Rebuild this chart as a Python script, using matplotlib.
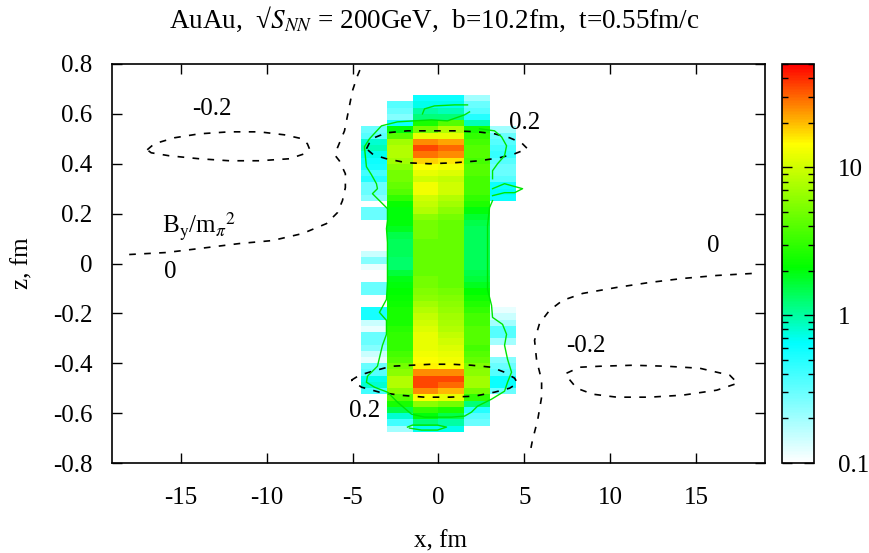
import numpy as np
import matplotlib
matplotlib.use('Agg')
import matplotlib.pyplot as plt
from matplotlib.colors import LogNorm, LinearSegmentedColormap

plt.rcParams['font.family'] = ['Liberation Serif', 'DejaVu Serif']
plt.rcParams['mathtext.fontset'] = 'stix'

# cell grid: x columns (fm) and z rows from top to bottom (fm)
x_edges = [-4.5, -3.0, -1.5, 0.0, 1.5, 3.0, 4.5]
z_top, z_bot, n_rows = 0.675, -0.675, 54

# energy density per column, rows from top (z=0.675) to bottom (z=-0.675); 0 = empty cell
col_m45 = [0, 0, 0, 0, 0, 0.3, 0.35, 0.8, 0.9, 0.7, 0.6, 0.55, 0.4, 0.5, 0.3, 0.3, 0.25, 0,
           0.3, 0.3, 0, 0, 0, 0, 0, 0.15, 0.25, 0.12, 0, 0, 0.3, 0.3, 0, 0, 0.55, 0.55, 0.15,
           0.12, 0.3, 0.3, 0.25, 0.15, 0.12, 0.3, 0.35, 0.7, 0.8, 0.4, 0, 0, 0, 0, 0, 0]
col_m30 = [0, 0.35, 0.3, 0.25, 0.6, 2.0, 4, 7, 8, 8, 7, 6, 5, 5, 4.5, 4, 3, 2.2, 2.0, 2.0,
           2.0, 1.8, 1.5, 1.4, 1.4, 1.4, 1.3, 1.3, 1.6, 1.9, 2.0, 2.1, 2.2, 2.3, 2.5, 2.5, 2.5,
           2.8, 3, 3, 3, 3.5, 4, 5, 6, 8, 8, 6, 4, 2.5, 1.5, 0.8, 0.4, 0.2]
col_m15 = [0.6, 0.7, 1.0, 1.2, 2.5, 5, 12, 25, 35, 28, 18, 14, 12, 10, 13, 13, 10, 9, 8, 6,
           5, 5, 5, 4.5, 4.5, 4.5, 4.5, 4.5, 4.5, 5, 5, 5.5, 6, 7, 8, 9, 10, 11, 12, 12, 12,
           13, 14, 15, 25, 35, 35, 25, 14, 6, 3, 2, 1.2, 0.7]
col_p00 = [0.6, 0.7, 0.9, 1.2, 4, 8, 12, 22, 30, 25, 16, 13, 11, 9, 10, 10, 8, 7, 6, 5,
           4.5, 4.5, 4.5, 4.5, 4.5, 4.5, 4.5, 4.5, 4.5, 4.5, 4.5, 5, 5.5, 6, 6.5, 7, 7.5, 8,
           9, 10, 11, 12, 13, 14, 25, 35, 30, 20, 12, 5, 2.5, 1.5, 1.0, 0.7]
col_p15 = [0.2, 0.3, 0.35, 0.5, 0.9, 2.5, 3, 3.5, 4, 4, 3.5, 4, 4, 3.5, 3.5, 3.5, 3, 2.6,
           2.0, 1.7, 1.5, 1.4, 1.4, 1.4, 1.4, 1.4, 1.4, 1.4, 1.5, 1.6, 1.8, 2.1, 2.4, 2.7, 3,
           3.5, 3.5, 4, 4, 4, 3.5, 4, 4.5, 5.5, 6, 7, 7, 5, 3, 1.2, 0.5, 0.35, 0.3, 0]
col_p30 = [0, 0, 0, 0, 0, 0.2, 0.3, 0.35, 0.4, 0.45, 0.35, 0.3, 0.3, 0.35, 0.6, 0.65, 0.6,
           0, 0, 0, 0, 0, 0, 0, 0, 0, 0, 0, 0, 0, 0, 0, 0, 0, 0.12, 0.15, 0.2, 0.35, 0.35, 0.2,
           0, 0, 0.25, 0.3, 0.35, 0.6, 0.6, 0.3, 0, 0, 0, 0, 0, 0]

# B_y / m_pi^2 contour lines (x fm, z fm)
by_m02_left_x = [-16.95, -16.54, -15.38, -13.92, -12.17, -10.43, -8.97, -7.92, -7.63, -7.51,
                 -7.80, -8.68, -10.43, -12.17, -13.92, -15.67, -16.72, -16.95]
by_m02_left_z = [0.456, 0.48, 0.504, 0.52, 0.528, 0.528, 0.516, 0.50, 0.48, 0.46,
                 0.44, 0.42, 0.412, 0.412, 0.42, 0.432, 0.444, 0.456]
by_0_left_x = [-18.0, -15.84, -13.92, -11.59, -9.67, -7.92, -6.52, -5.88, -5.59, -5.42, -5.42,
               -5.77, -6.0, -5.88, -5.47, -5.24, -5.01, -4.72, -4.43]
by_0_left_z = [0.036, 0.044, 0.06, 0.08, 0.092, 0.12, 0.16, 0.204, 0.252, 0.304, 0.36,
               0.412, 0.432, 0.464, 0.532, 0.612, 0.692, 0.752, 0.80]
by_p02_top_x = [-4.19, -3.90, -3.03, -1.81, -0.52, 0.93, 2.27, 3.26, 4.14, 4.83, 5.18, 4.43,
                3.55, 2.39, 0.93, -0.52, -1.86, -3.03, -3.79, -4.19]
by_p02_top_z = [0.46, 0.50, 0.524, 0.532, 0.532, 0.532, 0.528, 0.52, 0.504, 0.484, 0.46, 0.44,
                0.424, 0.412, 0.404, 0.40, 0.404, 0.42, 0.436, 0.46]
by_p02_bot_x = [-5.07, -4.60, -3.84, -2.74, -1.57, -0.41, 0.76, 1.92, 3.09, 3.84, 4.43, 4.60,
                4.14, 3.26, 2.10, 0.64, -0.82, -2.27, -3.44, -4.48, -5.07]
by_p02_bot_z = [-0.468, -0.448, -0.432, -0.412, -0.408, -0.404, -0.404, -0.408, -0.416, -0.436,
                -0.46, -0.48, -0.50, -0.516, -0.532, -0.536, -0.536, -0.528, -0.516, -0.496, -0.468]
by_0_right_x = [18.23, 16.19, 14.21, 12.29, 10.37, 8.39, 7.22, 6.46, 5.88, 5.59, 5.71, 6.0,
                6.0, 5.77, 5.47, 5.30]
by_0_right_z = [-0.04, -0.048, -0.06, -0.076, -0.096, -0.12, -0.148, -0.188, -0.24, -0.308,
                -0.388, -0.468, -0.536, -0.628, -0.708, -0.768]
by_m02_right_x = [7.45, 8.21, 9.38, 11.30, 13.28, 15.20, 16.95, 17.41, 16.19, 14.21, 12.29,
                  10.37, 8.97, 8.04, 7.51, 7.45]
by_m02_right_z = [-0.44, -0.416, -0.412, -0.408, -0.412, -0.42, -0.448, -0.48, -0.508, -0.528,
                  -0.536, -0.536, -0.524, -0.50, -0.456, -0.44]

# green density contour, read in picture pixels, converted to (x fm, z fm) below
green_main_px = [(470, 111), (465, 114), (448, 120), (432, 119), (415, 120), (398, 121), (382, 125),
                 (370, 138), (365, 146), (367, 166), (372, 174), (377, 183), (378, 188), (373, 193),
                 (380, 200), (388, 208), (388, 220), (387, 228), (388, 242), (388, 262), (388, 282),
                 (387, 299), (380, 312), (387, 320), (387, 334), (383, 345), (378, 366), (368, 376),
                 (367, 382), (375, 387), (388, 392), (398, 402), (412, 414), (425, 417), (438, 417),
                 (452, 417), (465, 416), (472, 412), (478, 406), (492, 399), (505, 391), (508, 382),
                 (512, 372), (508, 359), (505, 345), (507, 334), (503, 324), (493, 317), (492, 305),
                 (488, 289), (488, 262), (488, 225), (490, 207), (493, 200)]
green_spike_px = [(493, 188), (505, 183), (523, 188), (515, 192), (505, 192), (493, 195)]
green_right_px = [(493, 178), (493, 170), (498, 163), (505, 155), (507, 145), (502, 136),
                  (495, 130), (480, 128)]
green_top_px = [(423, 113), (425, 108), (435, 105), (455, 104), (468, 104)]
green_bot_px = [(408, 427), (413, 425), (438, 425), (447, 427), (438, 430), (422, 430), (410, 428)]

fig = plt.figure(figsize=(8.7, 5.53), dpi=100)
ax = fig.add_axes([112 / 870, 90 / 553, 653 / 870, 399 / 553])
cax = fig.add_axes([782 / 870, 90 / 553, 32 / 870, 399 / 553])

cmap = LinearSegmentedColormap.from_list(
    'ed', [(0.0, '#ffffff'), (0.30, '#00ffff'), (0.49, '#00ff00'), (0.80, '#ffff00'), (1.0, '#ff0000')])
norm = LogNorm(vmin=0.1, vmax=50)

values = np.array([col_m45, col_m30, col_m15, col_p00, col_p15, col_p30], dtype=float).T
values = np.ma.masked_less_equal(values, 0)
z_edges = np.linspace(z_top, z_bot, n_rows + 1)
pcm = ax.pcolormesh(x_edges, z_edges, values, cmap=cmap, norm=norm, shading='flat')

dash = (0, (4, 5))
for xs, zs in [(by_m02_left_x, by_m02_left_z), (by_0_left_x, by_0_left_z),
               (by_p02_top_x, by_p02_top_z), (by_p02_bot_x, by_p02_bot_z),
               (by_0_right_x, by_0_right_z), (by_m02_right_x, by_m02_right_z)]:
    ax.plot(xs, zs, color='black', lw=1.2, linestyle=dash)


def px_to_data(pts):
    arr = np.array(pts, dtype=float)
    return (arr[:, 0] - 439) / 17.17, (263 - arr[:, 1]) / 250


for pts in [green_main_px, green_spike_px, green_right_px, green_top_px, green_bot_px]:
    gx, gz = px_to_data(pts)
    ax.plot(gx, gz, color='#00e600', lw=1.0)

fs = 18
ax.text(-13.2, 0.62, '-0.2', fontsize=fs, ha='center', va='center')
ax.text(5.0, 0.565, '0.2', fontsize=fs, ha='center', va='center')
ax.text(-16.1, 0.15, r'B$_{\rm y}$/m$_{\pi}$$^{2}$', fontsize=fs, ha='left', va='center')
ax.text(-15.6, -0.036, '0', fontsize=fs, ha='center', va='center')
ax.text(16.0, 0.072, '0', fontsize=fs, ha='center', va='center')
ax.text(8.6, -0.33, '-0.2', fontsize=fs, ha='center', va='center')
ax.text(-4.3, -0.59, '0.2', fontsize=fs, ha='center', va='center')

ax.set_xlim(-19, 19)
ax.set_ylim(-0.8, 0.8)
ax.set_xticks([-15, -10, -5, 0, 5, 10, 15])
ax.set_yticks([-0.8, -0.6, -0.4, -0.2, 0, 0.2, 0.4, 0.6, 0.8])
ax.set_yticklabels(['-0.8', '-0.6', '-0.4', '-0.2', '0', '0.2', '0.4', '0.6', '0.8'])
ax.set_xticklabels(['-15', '-10', '-5', '0', '5', '10', '15'])
ax.tick_params(direction='in', top=True, right=True, length=7, width=1, labelsize=fs)
ax.tick_params(axis='x', pad=17)
ax.tick_params(axis='y', pad=14)
for s in ax.spines.values():
    s.set_linewidth(1.2)

cb = fig.colorbar(pcm, cax=cax)
cb.set_ticks([0.1, 1, 10])
cb.set_ticklabels(['0.1', '1', '10'])
cax.tick_params(which='both', direction='in', left=True, right=True, width=1, labelsize=fs)
cax.tick_params(which='major', length=7, pad=17)
cax.tick_params(which='minor', length=4)
cb.outline.set_linewidth(1.2)

fig.text(434 / 870, 1 - 19 / 553, 'AuAu,  √$S_{NN}$ = 200GeV,  b=10.2fm,  t=0.55fm/c',
         fontsize=19.5, ha='center', va='center')
fig.text(440 / 870, 1 - 541 / 553, 'x, fm', fontsize=fs, ha='center', va='center')
fig.text(22 / 870, 1 - 263 / 553, 'z, fm', fontsize=fs, ha='center', va='center', rotation=90)

fig.savefig('out.png', dpi=100)
